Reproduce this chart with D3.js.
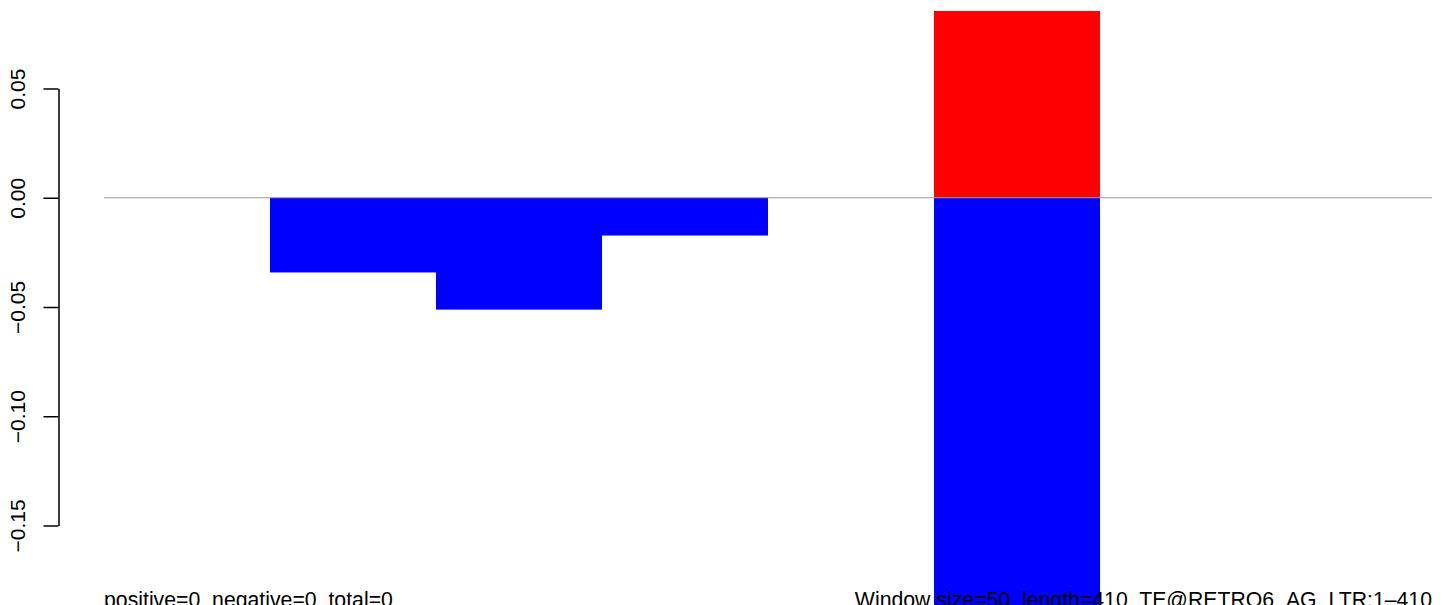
<!DOCTYPE html>
<html>
<head>
<meta charset="utf-8">
<script src="https://cdn.jsdelivr.net/npm/d3@7"></script>
<style>
  html, body { margin: 0; padding: 0; background: #fff; }
  svg { display: block; font-family: "Liberation Sans", Arial, sans-serif; }
</style>
</head>
<body>
<svg id="chart" width="1449" height="605"></svg>
<script>
// Data
const windows = [0, 1, 2, 3, 4, 5, 6, 7];
const positiveValues = [0, 0, 0, 0, 0, 0.0855, 0, 0];
const negativeValues = [0, -0.0342, -0.0512, -0.0173, 0, -0.19, 0, 0];
const yTicks = [0.05, 0.00, -0.05, -0.10, -0.15];
const yTickLabels = ["0.05", "0.00", "\u22120.05", "\u22120.10", "\u22120.15"];
const leftNote = "positive=0  negative=0  total=0";
const rightNote = "Window size=50  length=410  TE@RETRO6_AG_LTR:1\u2013410";

const svg = d3.select("#chart");

const x = d3.scaleLinear().domain([0, windows.length]).range([104, 1432]);
const y = d3.scaleLinear().domain([0.05, -0.15]).range([88.5, 525.5]);

// bars
const g = svg.append("g");
g.selectAll("rect.pos").data(windows.filter(i => positiveValues[i] !== 0)).join("rect")
  .attr("class", "pos")
  .attr("x", i => x(i)).attr("width", i => x(i + 1) - x(i))
  .attr("y", i => y(positiveValues[i])).attr("height", i => y(0) - y(positiveValues[i]))
  .attr("fill", "#ff0000");
g.selectAll("rect.neg").data(windows.filter(i => negativeValues[i] !== 0)).join("rect")
  .attr("class", "neg")
  .attr("x", i => x(i)).attr("width", i => x(i + 1) - x(i))
  .attr("y", y(0)).attr("height", i => y(negativeValues[i]) - y(0))
  .attr("fill", "#0000ff");

// zero line
svg.append("line")
  .attr("x1", x(0)).attr("x2", x(windows.length))
  .attr("y1", y(0)).attr("y2", y(0))
  .attr("stroke", "#999").attr("stroke-width", 1.2);

// y axis
const axis = d3.axisLeft(y).tickValues(yTicks).tickSize(15).tickSizeOuter(0)
  .tickFormat((d, i) => yTickLabels[i]);
const ax = svg.append("g").attr("transform", "translate(58.5,0)").call(axis);
ax.select(".domain").attr("stroke", "#000").attr("stroke-width", 1.5);
ax.selectAll(".tick line").attr("stroke", "#000").attr("stroke-width", 1.5);
ax.selectAll(".tick text")
  .attr("font-size", 21).attr("font-family", "Liberation Sans, Arial, sans-serif")
  .attr("fill", "#000")
  .attr("text-anchor", "middle")
  .attr("transform", "rotate(-90)")
  .attr("x", 0).attr("y", -34).attr("dy", 0);

// notes
svg.append("text").attr("x", 104).attr("y", 607)
  .attr("font-size", 21.25).attr("fill", "#000").text(leftNote).style("white-space", "pre");
svg.append("text").attr("x", 1432).attr("y", 607).attr("text-anchor", "end")
  .attr("font-size", 21.25).attr("fill", "#000").text(rightNote).style("white-space", "pre");
</script>
</body>
</html>
